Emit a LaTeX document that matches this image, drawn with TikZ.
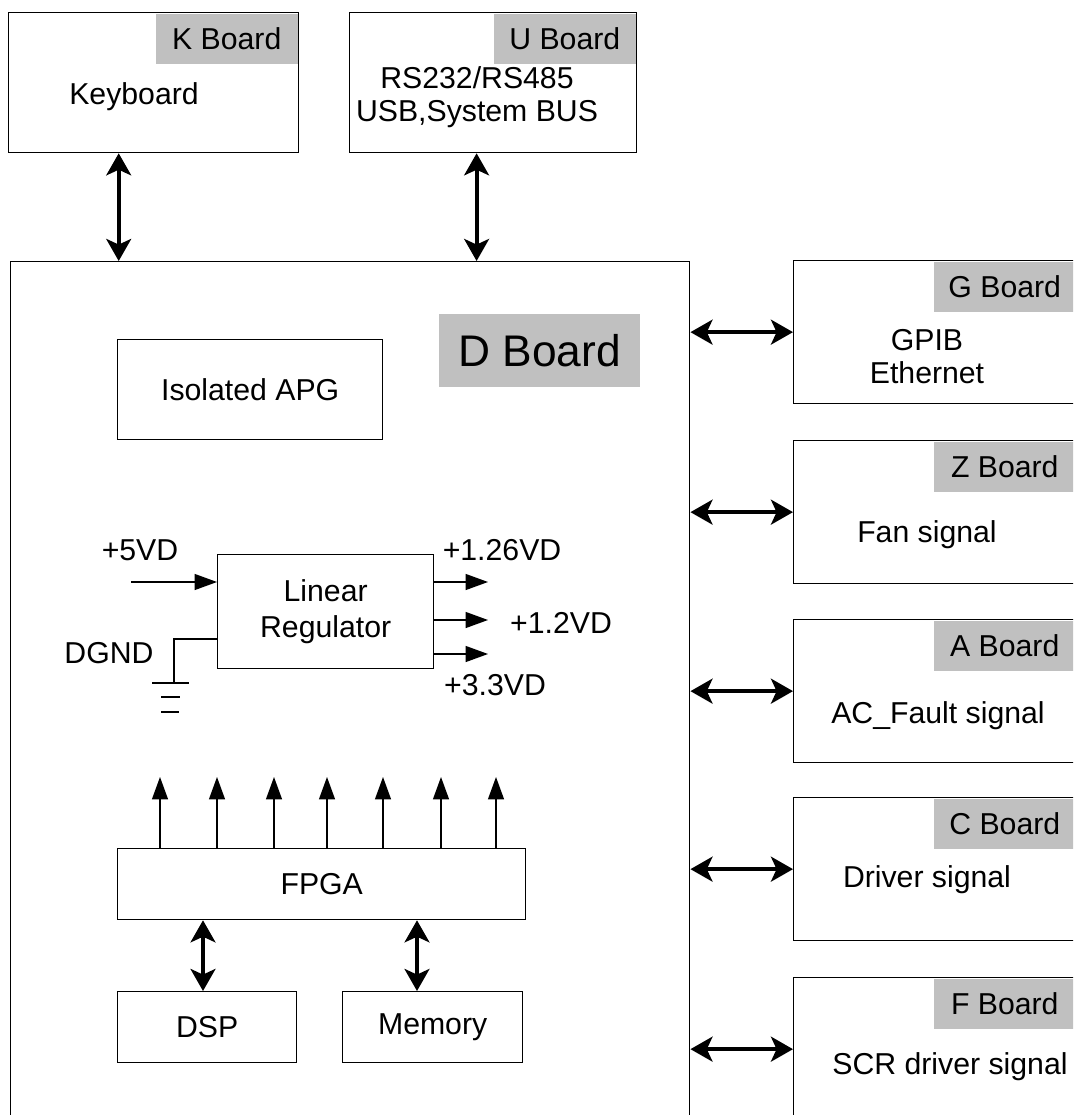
\documentclass[tikz,border=0pt]{standalone}
\usepackage{fontspec}
\setmainfont{Liberation Sans}
\usetikzlibrary{arrows.meta,calc}
\definecolor{tagfill}{RGB}{192,192,192}
\newcommand{\lbl}{\fontsize{21.5}{23.5}\selectfont}
\tikzset{
  box/.style={draw,line width=.9pt,anchor=north west,inner sep=0pt,align=center,font=\lbl},
  tag/.style={fill=tagfill,anchor=north east,inner sep=0pt,xshift=-.9pt,yshift=-.9pt,
    minimum width=3.55cm,minimum height=1.25cm,font=\lbl},
  txt/.style={font=\lbl,align=center,inner sep=0pt},
  dbl/.style={{Stealth[length=.55cm,width=.62cm,inset=.14cm]}-{Stealth[length=.55cm,width=.62cm,inset=.14cm]},line width=2.8pt},
  sig/.style={-{Triangle[length=.56cm,width=.4cm]},line width=.9pt},
  wire/.style={line width=.9pt}
}

\begin{document}
\begin{tikzpicture}[x=0.025cm,y=-0.025cm]
  \path[use as bounding box,clip] (0,0) rectangle (1073,1115);
  % top boards
  \node[box,minimum width=7.25cm,minimum height=3.5cm] (kb) at (8,12) {};
  \node[tag] (tagk) at (kb.north east) {K Board};
  \node[txt] (kbtxt) at (134,97) {Keyboard};
  \node[box,minimum width=7.175cm,minimum height=3.5cm] (ub) at (349,12) {};
  \node[tag] (tagu) at (ub.north east) {U Board};
  \node[txt] (ubtxt) at (477,97) {RS232/RS485\\USB,System BUS};
  % main board
  \node[box,minimum width=16.975cm,minimum height=21.6cm] (d) at (10,261) {};
  \node[fill=tagfill,anchor=north west,inner sep=0pt,minimum width=5.025cm,minimum height=1.825cm,
    font=\fontsize{31.5}{36}\selectfont] (tagd) at (439,314) {D Board};
  \draw[dbl] ($(kb.south west)!.38!(kb.south east)$) coordinate (kdn) -- (kdn |- d.north);
  \draw[dbl] ($(ub.south west)!.4425!(ub.south east)$) coordinate (udn) -- (udn |- d.north);
  % side boards
  \foreach \n/\ty/\bname/\btxt/\dx/\dy in {
      g/260/G Board/{GPIB\\Ethernet}/927/96.5,
      z/440/Z Board/Fan signal/927/95,
      a/619/A Board/AC\_Fault signal/938/97,
      c/797/C Board/Driver signal/927/83,
      f/977/F Board/SCR driver signal/950/90}{
    \node[box,minimum width=7.075cm,minimum height=3.575cm] (\n) at (793,\ty) {};
    \node[tag] (tag\n) at (\n.north east) {\bname};
    \node[txt] (txt\n) at (\dx,\ty+\dy) {\btxt};
    \draw[dbl] (\n.west -| d.east) -- (\n.west);
  }
  \node[box,minimum width=6.625cm,minimum height=2.5cm] (apg) at (117,339) {Isolated APG};
  % regulator
  \node[box,minimum width=5.4cm,minimum height=2.85cm,font=\fontsize{21.5}{26}\selectfont] (reg) at (217,554) {Linear\\Regulator};
  \coordinate (vin) at (131,582);
  \draw[sig] (vin) -- (vin -| reg.west);
  \foreach \vy in {582,620,654}
    \draw[sig] (reg.east |- 0,\vy) -- (488,\vy);
  \node[txt] (v5) at (140,550) {+5VD};
  \node[txt] (v126) at (502,550) {+1.26VD};
  \node[txt] (v12) at (561,623) {+1.2VD};
  \node[txt] (v33) at (495,685) {+3.3VD};
  \node[txt] (dgnd) at (109,653) {DGND};
  \coordinate (gnd) at (174,683);
  \draw[wire] (reg.west |- 0,639) -| (gnd);
  \draw[wire] (152,683) -- (189,683) (161,697) -- (180,697) (161,712) -- (179,712);
  % fpga
  \node[box,minimum width=10.2cm,minimum height=1.775cm] (fpga) at (117,848) {FPGA};
  \foreach \px in {160,217,274,327,383,441,496}
    \draw[sig] (fpga.north -| \px,0) -- ++(0,-71);
  \node[box,minimum width=4.475cm,minimum height=1.775cm] (dsp) at (117,991) {DSP};
  \node[box,minimum width=4.5cm,minimum height=1.775cm] (mem) at (342,991) {Memory};
  \draw[dbl] (dsp.north -| 203,0) -- (fpga.south -| 203,0);
  \draw[dbl] (mem.north -| 417,0) -- (fpga.south -| 417,0);
\end{tikzpicture}
\end{document}
